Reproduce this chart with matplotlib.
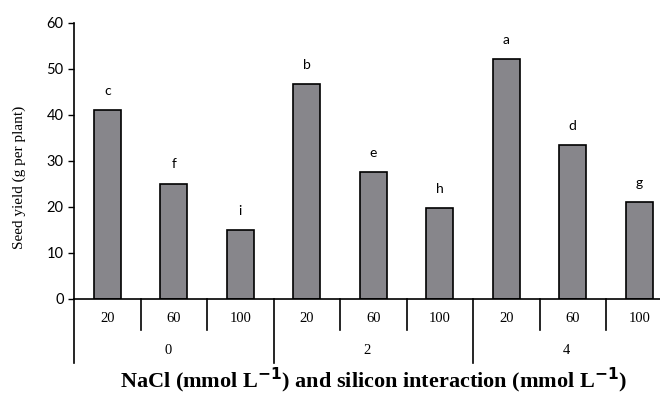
import matplotlib
matplotlib.use("Agg")
import matplotlib.pyplot as plt
import matplotlib.transforms as mtransforms

nacl_labels = ["20", "60", "100", "20", "60", "100", "20", "60", "100"]
silicon_labels = ["0", "2", "4"]
seed_yield = [41.0, 25.1, 15.0, 46.7, 27.6, 19.7, 52.1, 33.4, 21.0]
letters = ["c", "f", "i", "b", "e", "h", "a", "d", "g"]

fig = plt.figure(figsize=(6.6, 3.99), dpi=100)
# axes run a bit past the right edge, like the original
ax = fig.add_axes([74 / 660, 100 / 399, 598.5 / 660, 276 / 399])

x = range(len(seed_yield))
bars = ax.bar(x, seed_yield, width=0.4, color="#87868b",
              edgecolor="black", linewidth=1.2)

for rect, letter in zip(bars, letters):
    ax.text(rect.get_x() + rect.get_width() / 2.0, rect.get_height() + 4.2,
            letter, ha="center", va="center", fontsize=10, family="Lato")

ax.set_xlim(-0.5, 8.5)
ax.set_ylim(0, 60)
ax.set_yticks(range(0, 61, 10))
ax.set_xticks([])
ax.tick_params(axis="y", direction="out", length=4.5, width=1,
               labelsize=10.5, pad=3)
for lab in ax.get_yticklabels():
    lab.set_family("Lato")
for side in ["top", "right"]:
    ax.spines[side].set_visible(False)
ax.spines["left"].set_linewidth(1.2)
ax.spines["bottom"].set_linewidth(1.2)

# category axis below the bars
trans = mtransforms.blended_transform_factory(ax.transData, ax.transAxes)
for i in range(len(seed_yield) + 1):
    edge = i - 0.5
    bottom = -0.232 if i % 3 == 0 else -0.112
    ax.plot([edge, edge], [0, bottom], color="black", linewidth=1.2,
            transform=trans, clip_on=False)
for i, lab in enumerate(nacl_labels):
    ax.text(i, -0.069, lab, transform=trans, ha="center", va="center",
            fontsize=10.5, family="Liberation Serif")
for g, lab in enumerate(silicon_labels):
    ax.text(g * 3 + 1 - 0.09, -0.185, lab, transform=trans, ha="center",
            va="center", fontsize=10.5, family="Liberation Serif")

ax.set_ylabel("Seed yield (g per plant)", fontsize=11,
              family="Liberation Serif")
ax.yaxis.set_label_coords(-0.08, 0.44)

fig.text(374 / 660, 19 / 399,
         r"NaCl (mmol L$^{\mathbf{-1}}$) and silicon interaction (mmol L$^{\mathbf{-1}}$)",
         ha="center", va="center", fontsize=16, fontweight="bold",
         family="Liberation Serif")

fig.savefig("out.png", dpi=100)
